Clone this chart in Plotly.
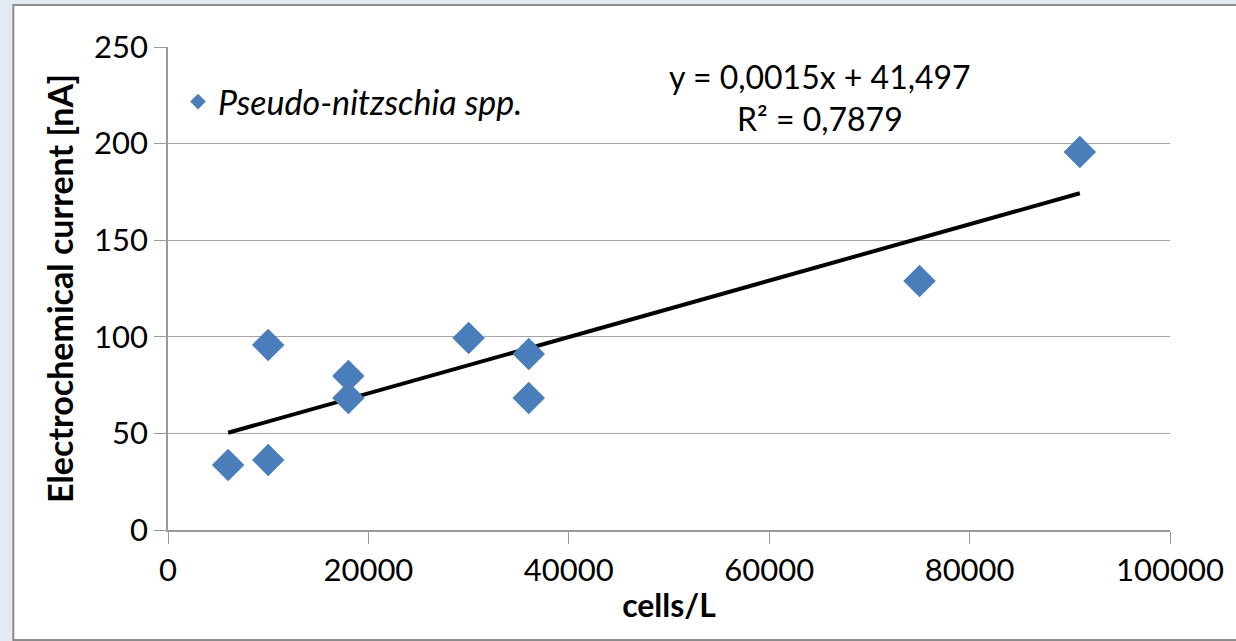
import numpy as np
import plotly.graph_objects as go

cells = [6000, 10000, 10000, 18000, 18000, 30000, 36000, 36000, 75000, 91000]
current = [33.6, 36.2, 95.8, 79.7, 68.3, 99.4, 91.1, 68.3, 128.9, 195.7]
series_name = "Pseudo-nitzschia spp."
equation_text = "y = 0,0015x + 41,497<br>R² = 0,7879"

slope, intercept = np.polyfit(cells, current, 1)
tx = [min(cells), max(cells)]
ty = [slope * v + intercept for v in tx]

W, H = 1236, 641
L, R, T, B = 168, 64, 47, 111
pw, ph = W - L - R, H - T - B

def px(xp):
    return (xp - L) / pw

def py(yp):
    return (H - B - yp) / ph

font = "Lato, 'Open Sans', sans-serif"

fig = go.Figure()
fig.add_trace(go.Scatter(
    x=tx, y=ty, mode="lines", line=dict(color="black", width=4),
    showlegend=False, hoverinfo="skip"))
fig.add_trace(go.Scatter(
    x=cells, y=current, mode="markers", name="<i>" + series_name + "</i>",
    marker=dict(symbol="diamond", size=25, color="#4a7ebb",
                line=dict(width=0))))

fig.add_shape(type="rect", xref="paper", yref="paper",
              x0=px(13), x1=px(1250), y0=py(640), y1=py(5),
              fillcolor="white", line=dict(color="#8c8c8c", width=2),
              layer="below")

fig.add_annotation(x=px(821), y=py(97), xref="paper", yref="paper",
                   xanchor="center", yanchor="middle",
                   text=equation_text, showarrow=False,
                   font=dict(family=font, size=32, color="black"),
                   align="center")

fig.update_layout(
    width=W, height=H,
    margin=dict(l=L, r=R, t=T, b=B),
    paper_bgcolor="#e4eaf3",
    plot_bgcolor="white",
    font=dict(family=font, size=31, color="black"),
    showlegend=True,
    legend=dict(x=px(178), y=py(73), xanchor="left", yanchor="top",
                bgcolor="rgba(0,0,0,0)", font=dict(size=34),
                itemsizing="constant"),
    xaxis=dict(range=[0, 100000], dtick=20000, showgrid=False,
               showline=True, linecolor="#9a9a9a", linewidth=1.5,
               ticks="outside", ticklen=12, tickcolor="#9a9a9a",
               zeroline=False, tickformat="d",
               title=dict(text="<b>cells/L</b>", standoff=8,
                          font=dict(size=32))),
    yaxis=dict(range=[0, 250], dtick=50, showgrid=True,
               gridcolor="#a6a6a6", gridwidth=1.2,
               showline=True, linecolor="#9a9a9a", linewidth=1.5,
               ticks="outside", ticklen=12, tickcolor="#9a9a9a",
               zeroline=False,
               title=dict(text="<b>Electrochemical current [nA]</b>",
                          standoff=10, font=dict(size=34))),
)

fig.write_html("out.html", config={"displayModeBar": False},
               post_script="document.body.style.margin='0px';document.body.style.padding='0px';")
